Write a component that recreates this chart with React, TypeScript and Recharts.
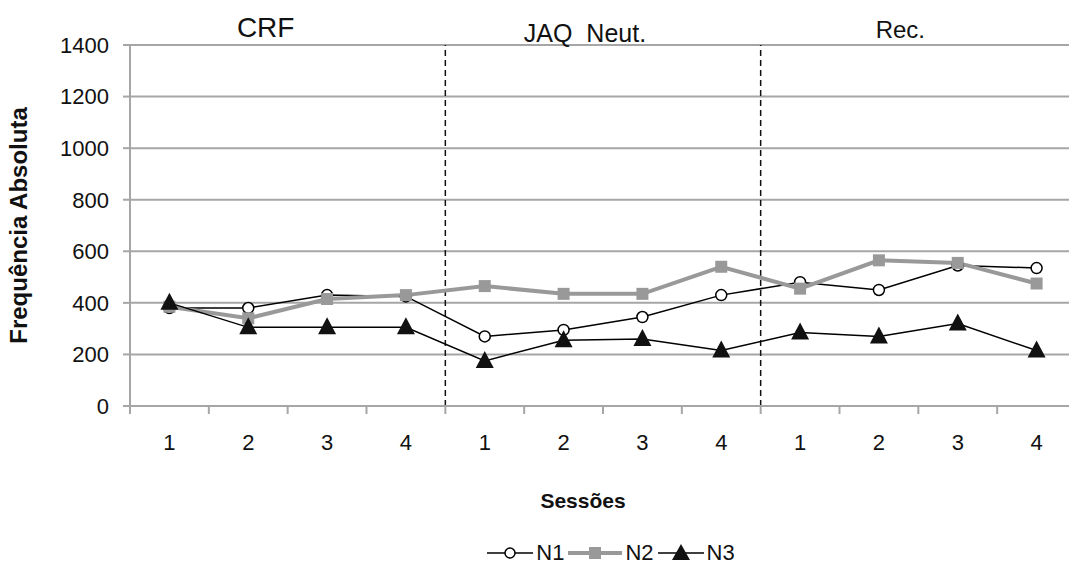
import { LineChart, Line, XAxis, YAxis, CartesianGrid, ReferenceLine, ReferenceArea, Legend } from "recharts";

const sessions = ["1", "2", "3", "4", "1", "2", "3", "4", "1", "2", "3", "4"];
const n1 = [380, 380, 430, 425, 270, 295, 345, 430, 480, 450, 545, 535];
const n2 = [385, 340, 415, 430, 465, 435, 435, 540, 455, 565, 555, 475];
const n3 = [400, 305, 305, 305, 175, 255, 260, 215, 285, 270, 320, 215];
const phases = ["CRF", "JAQ\u00a0\u00a0Neut.", "Rec."];
const phaseLength = 4;
const yTicks = [0, 200, 400, 600, 800, 1000, 1200, 1400];

const data = sessions.map((s, i) => ({ x: i + 1, label: s, N1: n1[i], N2: n2[i], N3: n3[i] }));
const xTicks = Array.from({ length: sessions.length * 2 + 1 }, (_, i) => 0.5 + i * 0.5);

// header label look, one per phase
const phaseLabelStyle = [
  { fontSize: 28, dx: -22, offset: 8 },
  { fontSize: 25, dx: -18, offset: 3 },
  { fontSize: 24, dx: -18, offset: 7 },
];

const FONT = "'Liberation Sans', Arial, sans-serif";
const GRID = "#a6a6a6";

function XTick(props: any) {
  const { x, y, payload } = props;
  const v = payload.value;
  if (Number.isInteger(v)) {
    return (
      <text x={x} y={y + 36} textAnchor="middle" fontSize={22} fill="#111" fontFamily={FONT}>
        {sessions[v - 1]}
      </text>
    );
  }
  return <line x1={x} x2={x} y1={y - 8} y2={y} stroke={GRID} strokeWidth={2} />;
}

function CircleDot(props: any) {
  const { cx, cy, index } = props;
  return <circle key={`c${index}`} cx={cx} cy={cy} r={5.5} fill="#fff" stroke="#000" strokeWidth={1.5} />;
}

function SquareDot(props: any) {
  const { cx, cy, index } = props;
  return <rect key={`s${index}`} x={cx - 6} y={cy - 6} width={12} height={12} fill="#999" />;
}

function TriangleDot(props: any) {
  const { cx, cy, index } = props;
  return (
    <polygon
      key={`t${index}`}
      points={`${cx},${cy - 10} ${cx - 9},${cy + 7} ${cx + 9},${cy + 7}`}
      fill="#111"
    />
  );
}

function LegendContent() {
  const item = (name: string, color: string, w: number, lineW: number, marker: JSX.Element) => (
    <span style={{ display: "inline-flex", alignItems: "center", marginRight: 4 }}>
      <svg width={lineW} height={20}>
        <line x1={0} x2={lineW} y1={10} y2={10} stroke={color} strokeWidth={w} />
        {marker}
      </svg>
      <span style={{ fontSize: 22, marginLeft: 3 }}>{name}</span>
    </span>
  );
  return (
    <div style={{ textAlign: "center", fontFamily: FONT, color: "#111", paddingTop: 30, paddingLeft: 150 }}>
      {item("N1", "#000", 1.5, 46, <circle cx={23} cy={10} r={5} fill="#fff" stroke="#000" strokeWidth={1.5} />)}
      {item("N2", "#999", 4, 54, <rect x={21} y={4} width={12} height={12} fill="#999" />)}
      {item("N3", "#000", 1.5, 46, <polygon points="23,1 14,17 32,17" fill="#111" />)}
    </div>
  );
}

export default function App() {
  return (
    <div style={{ position: "absolute", left: 0, top: 0, width: 1069, height: 570, overflow: "hidden", background: "#fff" }}>
      <LineChart width={1090} height={570} data={data} margin={{ top: 45, right: 14, bottom: 0, left: 0 }}>
        <CartesianGrid vertical={false} stroke={GRID} strokeWidth={2} />
        {phases.map((p, i) => (
          <ReferenceArea
            key={p}
            x1={0.5 + i * phaseLength}
            x2={0.5 + (i + 1) * phaseLength}
            fill="none"
            fillOpacity={0}
            label={{
              value: p,
              position: "top",
              dx: phaseLabelStyle[i].dx,
              offset: phaseLabelStyle[i].offset,
              fontSize: phaseLabelStyle[i].fontSize,
              fill: "#111",
              fontFamily: FONT,
            }}
          />
        ))}
        {phases.slice(1).map((p, i) => (
          <ReferenceLine key={p} x={0.5 + (i + 1) * phaseLength} stroke="#111" strokeWidth={1.5} strokeDasharray="6 4" />
        ))}
        <XAxis
          dataKey="x"
          type="number"
          domain={[0.5, 12.5]}
          ticks={xTicks}
          interval={0}
          allowDataOverflow
          tickSize={8}
          tickMargin={0}
          tickLine={false}
          tick={<XTick />}
          height={104}
          stroke={GRID}
          strokeWidth={2}
          label={{ value: "Sessões", position: "insideBottom", offset: 2, fontSize: 21, fontWeight: "bold", fill: "#111", fontFamily: FONT, dx: -20 }}
        />
        <YAxis
          domain={[0, 1400]}
          ticks={yTicks}
          interval={0}
          width={130}
          stroke={GRID}
          strokeWidth={2}
          tickSize={7}
          tickMargin={14}
          tick={{ fontSize: 22, fill: "#111", fontFamily: FONT }}
          label={{
            value: "Frequência Absoluta",
            angle: -90,
            position: "insideLeft",
            offset: 18,
            fontSize: 24,
            fontWeight: "bold",
            fill: "#111",
            fontFamily: FONT,
            style: { textAnchor: "middle" },
          }}
        />
        <Line dataKey="N1" stroke="#000" strokeWidth={1.5} dot={<CircleDot />} isAnimationActive={false} />
        <Line dataKey="N2" stroke="#999" strokeWidth={4} dot={<SquareDot />} isAnimationActive={false} />
        <Line dataKey="N3" stroke="#000" strokeWidth={1.5} dot={<TriangleDot />} isAnimationActive={false} />
        <Legend verticalAlign="bottom" height={60} content={<LegendContent />} />
      </LineChart>
    </div>
  );
}
